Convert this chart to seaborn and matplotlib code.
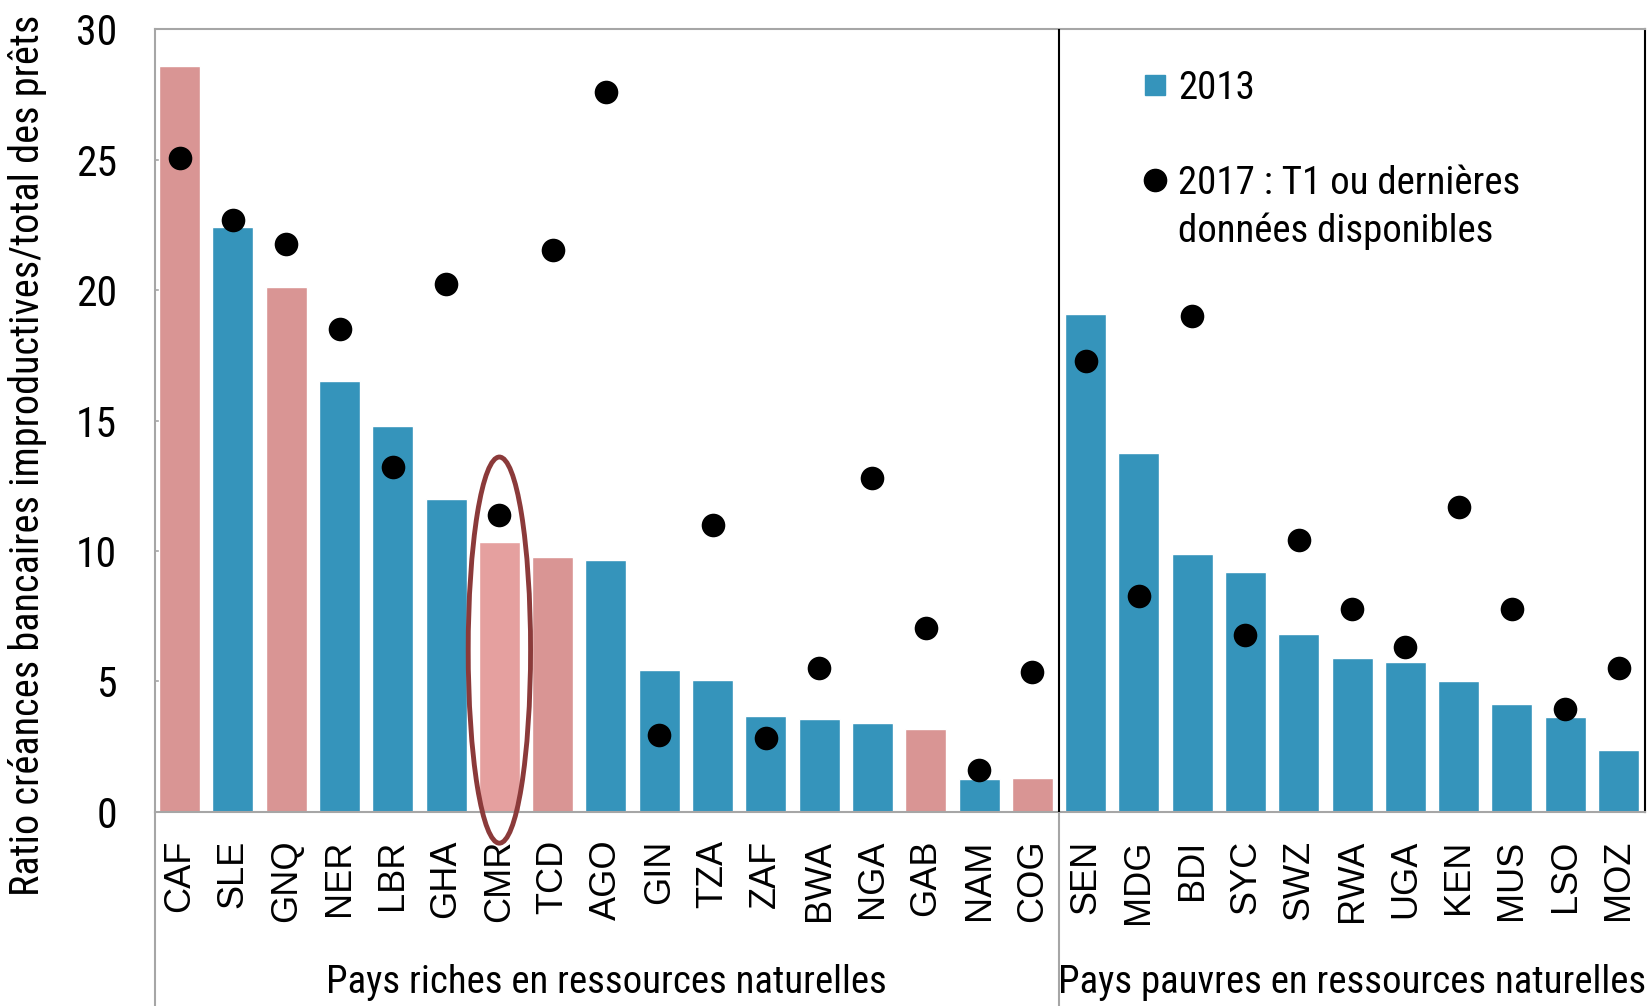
import matplotlib
matplotlib.use("Agg")
import matplotlib.pyplot as plt
from matplotlib.lines import Line2D
from matplotlib.patches import Ellipse
import seaborn as sns
import pandas as pd

# pays riches puis pauvres en ressources naturelles
riches = ["CAF", "SLE", "GNQ", "NER", "LBR", "GHA", "CMR", "TCD", "AGO",
          "GIN", "TZA", "ZAF", "BWA", "NGA", "GAB", "NAM", "COG"]
pauvres = ["SEN", "MDG", "BDI", "SYC", "SWZ", "RWA", "UGA", "KEN", "MUS", "LSO", "MOZ"]
pays = riches + pauvres

ratio_2013 = [28.6, 22.4, 20.1, 16.5, 14.8, 12.0, 10.35, 9.75, 9.67,
              5.44, 5.07, 3.66, 3.54, 3.42, 3.18, 1.25, 1.29,
              19.1, 13.77, 9.9, 9.18, 6.8, 5.88, 5.76, 5.03, 4.15, 3.62, 2.38]
ratio_2017 = [25.05, 22.7, 21.75, 18.5, 13.2, 20.25, 11.36, 21.55, 27.6,
              2.94, 11.0, 2.82, 5.52, 12.8, 7.05, 1.61, 5.36,
              17.3, 8.26, 19.0, 6.77, 10.43, 7.77, 6.32, 11.68, 7.77, 3.95, 5.52]
# pays de la CEMAC en rose, CMR mis en évidence
cemac = ["CAF", "GNQ", "TCD", "GAB", "COG"]

BLUE = "#3594BB"
PINK = "#D99594"
PINK_HL = "#E5A09F"
GRID = "#A6A6A6"

df = pd.DataFrame({"pays": pays, "r2013": ratio_2013, "r2017": ratio_2017})
palette = {p: (PINK_HL if p == "CMR" else PINK if p in cemac else BLUE) for p in pays}

sns.set_theme(style="white")
narrow = ["Roboto Condensed", "DejaVu Sans"]
plt.rcParams["font.family"] = narrow
plt.rcParams["text.color"] = "black"
plt.rcParams["ytick.color"] = "black"
plt.rcParams["axes.labelcolor"] = "black"

fig = plt.figure(figsize=(16.48, 10.06), dpi=100)
ax = fig.add_axes([0.0938, 0.193, 0.9045, 0.778])

sns.barplot(data=df, x="pays", y="r2013", hue="pays", palette=palette,
            width=0.77, legend=False, ax=ax, saturation=1)
sns.stripplot(data=df, x="pays", y="r2017", color="black", jitter=False,
              size=17, ax=ax, zorder=5)

ax.set_ylim(0, 30)
ax.set_xlim(-0.47, len(pays) - 0.5)
ax.set_yticks(range(0, 31, 5))
ax.tick_params(axis="y", direction="in", length=9, width=1.2, color=GRID,
               pad=27, labelsize=30, left=True, labelcolor="black")
ax.tick_params(axis="x", length=0, pad=20, labelcolor="black")
for lbl in ax.get_xticklabels():
    lbl.set_rotation(90)
    lbl.set_fontsize(26)
    lbl.set_family(["Liberation Sans", "DejaVu Sans"])
    lbl.set_va("top")

ax.set_xlabel("")
ax.set_ylabel("Ratio créances bancaires improductives/total des prêts", fontsize=29)
ax.yaxis.set_label_coords(-0.072, 0.456)

for side in ["left", "top", "bottom"]:
    ax.spines[side].set_color(GRID)
    ax.spines[side].set_linewidth(1.5)
ax.spines["right"].set_color("black")
ax.spines["right"].set_linewidth(1.5)

# séparation entre les deux groupes
sep = len(riches) - 0.5
ax.axvline(sep, color="black", lw=1.5, zorder=6)
ax.axvline(sep, ymin=-0.25, ymax=0, color=GRID, lw=1.5, clip_on=False)
ax.axvline(-0.47, ymin=-0.25, ymax=0, color=GRID, lw=1.5, clip_on=False)

ax.text((len(riches) - 1) / 2, -0.218, "Pays riches en ressources naturelles",
        transform=ax.get_xaxis_transform(), ha="center", va="center", fontsize=28)
ax.text(len(riches) + (len(pauvres) - 1) / 2, -0.218, "Pays pauvres en ressources naturelles",
        transform=ax.get_xaxis_transform(), ha="center", va="center", fontsize=28)

# ellipse autour du Cameroun
i_cmr = pays.index("CMR")
ax.add_patch(Ellipse((i_cmr, 6.2), width=1.17, height=14.8, fill=False,
                     edgecolor="#8B3A3A", lw=3.5, clip_on=False, zorder=7))

handles = [
    Line2D([], [], marker="s", color=BLUE, ls="none", markersize=14),
    Line2D([], [], ls="none"),
    Line2D([], [], marker="o", color="black", ls="none", markersize=16),
    Line2D([], [], ls="none"),
]
labels = ["2013", " ", "2017 : T1 ou dernières", "données disponibles"]
ax.legend(handles, labels, loc="upper left", bbox_to_anchor=(0.65, 0.968),
          frameon=False, fontsize=28, handletextpad=0.2, handlelength=0.8,
          labelspacing=0.27, borderaxespad=0)

fig.savefig("out.png", dpi=100)
